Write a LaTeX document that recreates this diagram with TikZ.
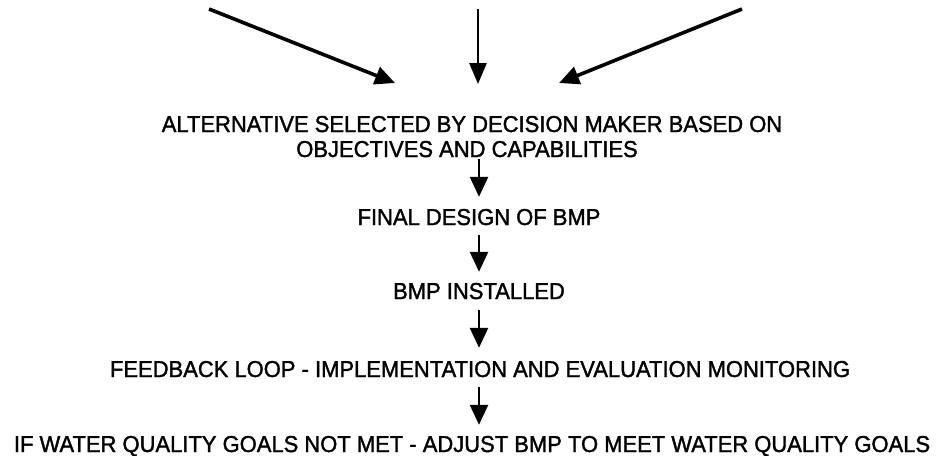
\documentclass[tikz,border=0pt]{standalone}
\usepackage{fontspec}
\setmainfont{Liberation Sans}[FakeBold=1.5,FakeStretch=0.955]
\usetikzlibrary{arrows.meta}
\begin{document}
\begin{tikzpicture}[x=1pt,y=-1pt,
  lbl/.style={inner sep=0pt, anchor=base, text height=16pt, text depth=0pt,
              font=\fontsize{23}{26}\selectfont},
  darr/.style={line width=3.6pt, -{Triangle[length=20pt,width=18pt]}},
  marr/.style={line width=2.8pt, -{Triangle[length=21pt,width=17pt]}},
  varr/.style={line width=2.6pt, -{Triangle[length=20pt,width=18pt]}}]
\useasboundingbox (0,0) rectangle (941,455);
% column of the vertical arrows
\coordinate (cx) at (479,0);
% top arrows
\coordinate (ls) at (209,9);  \coordinate (le) at (395,83);
\coordinate (ms) at (478,9);  \coordinate (me) at (478,84);
\coordinate (rs) at (742,9);  \coordinate (re) at (559,83);
% texts
\node[lbl] (t1) at (472,132) {ALTERNATIVE SELECTED BY DECISION MAKER BASED ON};
\node[lbl] (t2) at (467,157) {OBJECTIVES AND CAPABILITIES};
\node[lbl] (final) at (479,225) {FINAL DESIGN OF BMP};
\node[lbl] (bmp) at (479,299) {BMP INSTALLED};
\node[lbl] (fb) at (480,377) {FEEDBACK LOOP - IMPLEMENTATION AND EVALUATION MONITORING};
\node[lbl] (last) at (472,452) {IF WATER QUALITY GOALS NOT MET - ADJUST BMP TO MEET WATER QUALITY GOALS};
% connectors
\draw[darr] (ls) -- (le);
\draw[marr] (ms) -- (me);
\draw[darr] (rs) -- (re);
\draw[varr] ([yshift=-2pt]t2.south -| cx) -- ([yshift=12pt]final.north -| cx);
\draw[varr] ([yshift=-10pt]final.south -| cx) -- ([yshift=11pt]bmp.north -| cx);
\draw[varr] ([yshift=-11pt]bmp.south -| cx) -- ([yshift=13pt]fb.north -| cx);
\draw[varr] ([yshift=-10pt]fb.south -| cx) -- ([yshift=11pt]last.north -| cx);
\end{tikzpicture}
\end{document}
